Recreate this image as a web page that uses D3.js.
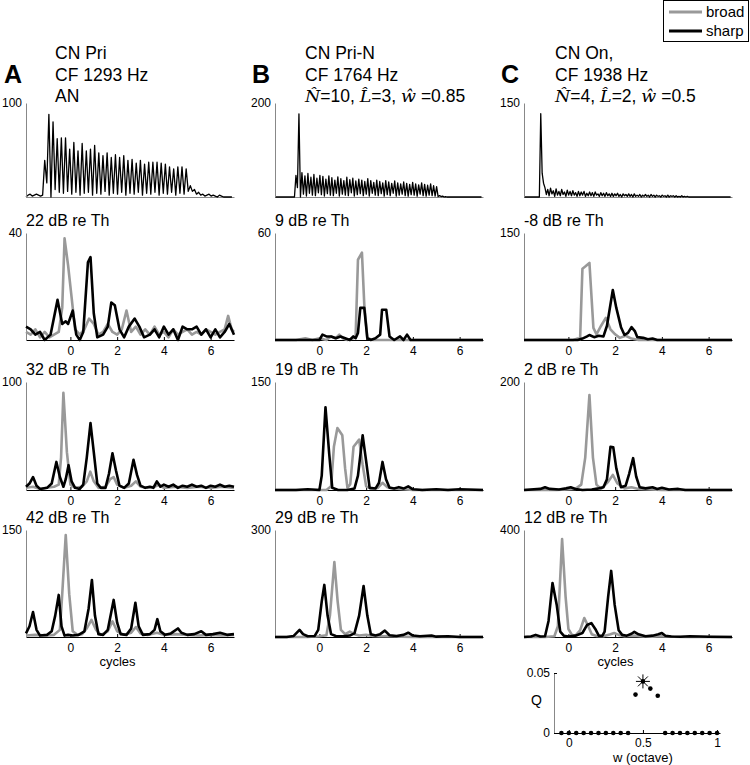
<!DOCTYPE html>
<html lang="en">
<head>
<meta charset="UTF-8">
<title>Period histograms</title>
<script src="https://d3js.org/d3.v7.min.js"></script>
<style>
  body { margin: 0; background: #fff; }
  svg text { font-family: "Liberation Sans", Arial, sans-serif; fill: #000; }
  .trace { fill: none; stroke-linejoin: round; stroke-width: 2.6px; }
  .broad { stroke: #999; }
  .sharp { stroke: #000; }
  .psth { fill: none; stroke: #000; stroke-width: 1.3px; stroke-linejoin: round; }
  .yax path { stroke: #888; }
  .xax path, .xax line { stroke: #000; }
  .tick text { font-size: 12px; }
</style>
</head>
<body>
<svg id="chart" width="750" height="765"></svg>
<script>
// ---- data ----
const panelLetters = ["A", "B", "C"];
const panelTitles = [
  [["CN Pri"], ["CF 1293 Hz"], ["AN"]],
  [["CN Pri-N"], ["CF 1764 Hz"], [["N\u0302"], "=10, ", ["L\u0302"], "=3, ", ["w\u0302"], " =0.85"]],
  [["CN On,"], ["CF 1938 Hz"], [["N\u0302"], "=4, ", ["L\u0302"], "=2, ", ["w\u0302"], " =0.5"]]
];
const levelLabels = [
  ["22 dB re Th", "32 dB re Th", "42 dB re Th"],
  ["9 dB re Th", "19 dB re Th", "29 dB re Th"],
  ["-8 dB re Th", "2 dB re Th", "12 dB re Th"]
];
const psthMax = [100, 200, 150];
const phMax = [[40, 100, 150], [60, 150, 300], [150, 200, 400]];
const cycleTicks = [0, 2, 4, 6];

// PSTH bin counts (spikes/s), one value per bin
const psthA = [0,2,3,1,2,3,2,1,2,
  39,15,88,0,80,8,62,5,63,4,63,6,51,3,58,5,49,2,57,4,49,5,51,2,55,4,47,3,44,6,
  47,2,42,4,45,3,42,5,44,2,39,4,40,3,36,5,39,2,35,4,37,3,37,5,37,2,36,4,35,3,
  32,5,30,2,32,4,32,3,30,6,
  12,6,8,3,5,2,3,1,2,3,1,2,1,0,2,1,0,0,0,0,0];
const psthB = [0,0,0,0,0,0,0,0,0,0,0,0,0,0,
  46,20,177,0,
  52,6,45,2,50,8,42,4,48,3,40,9,46,5,44,2,38,7,45,4,
  41,3,36,8,43,2,39,6,35,4,42,3,37,9,40,2,34,5,38,7,
  36,3,33,6,39,2,35,8,31,4,36,3,33,7,30,2,35,5,32,3,
  29,8,34,2,30,4,28,6,32,3,29,2,27,5,31,4,28,2,26,6,
  30,3,27,2,25,4,28,3,24,2,22,1,
  3,1,2,0,1,0,0,0,0,0,0,0,0,0,0,0,0,0,0,0,0,0,0,0,0,0,0,0,0];
const psthC = [0,0,0,0,0,0,0,0,0,0,0,0,
  133,38,22,
  15,4,12,2,14,5,10,1,13,3,9,2,12,4,8,1,11,3,9,2,
  10,3,7,1,9,2,8,3,9,1,6,2,8,2,7,1,8,3,5,1,
  7,2,6,1,7,2,5,1,6,1,5,2,6,1,4,0,5,2,4,1,
  5,1,4,0,5,1,3,1,4,0,3,1,4,1,3,0,4,1,3,0,
  3,1,2,0,3,1,2,0,3,0,2,1,2,0,2,0,1,0,2,0,
  1,0,1,0,
  0,0,0,0,0,0,0,0,0,0,0,0,0,0,0,0,0,0,0,0,0,0,0,0,0,0,0,0,0,0];

// period histograms: [cycles, rate]
const broadA = [
  [[-1.9,3],[-1.7,2],[-1.5,4],[-1.3,1],[-1.1,3],[-0.9,1],[-0.7,2],[-0.5,3],[-0.35,12],[-0.25,38],[-0.1,28],[0.05,16],[0.2,4],[0.4,2],[0.6,4],[0.8,8],[1.0,6],[1.2,2],[1.4,3],[1.6,6],[1.8,3],[2.0,2],[2.2,4],[2.4,11],[2.6,3],[2.8,5],[3.0,2],[3.2,4],[3.4,2],[3.6,5],[3.8,2],[4.0,3],[4.2,1],[4.4,4],[4.6,2],[4.8,3],[5.0,4],[5.2,2],[5.4,3],[5.6,2],[5.8,4],[6.0,3],[6.2,2],[6.4,3],[6.6,4],[6.75,9],[6.9,4],[7.0,3]],
  [[-1.9,2],[-1.6,3],[-1.3,1],[-1.0,2],[-0.7,3],[-0.5,5],[-0.4,30],[-0.3,90],[-0.15,35],[0,5],[0.2,2],[0.5,3],[0.7,8],[0.85,17],[1.0,8],[1.2,2],[1.5,3],[1.7,10],[1.85,12],[2.0,5],[2.3,2],[2.6,4],[2.8,8],[3.0,3],[3.3,2],[3.6,3],[3.8,5],[4.0,2],[4.5,3],[5.0,2],[5.5,3],[6.0,2],[6.5,3],[7.0,2]],
  [[-1.9,2],[-1.5,3],[-1.0,2],[-0.7,3],[-0.45,10],[-0.35,60],[-0.2,143],[-0.05,60],[0.1,8],[0.3,3],[0.5,4],[0.7,12],[0.9,24],[1.1,10],[1.3,3],[1.6,8],[1.8,22],[2.0,8],[2.3,3],[2.6,6],[2.8,14],[3.0,5],[3.3,3],[3.7,6],[4.0,3],[4.5,4],[5.0,3],[5.5,2],[6.0,3],[6.5,2],[7.0,3]]
];
const sharpA = [
  [[-1.9,5],[-1.7,4],[-1.5,2],[-1.3,3],[-1.1,0],[-0.85,2],[-0.55,15],[-0.35,6],[-0.2,7],[-0.1,6],[0.1,11],[0.25,2],[0.4,0],[0.55,3],[0.75,29],[0.86,31],[1.0,10],[1.15,1],[1.4,2],[1.6,5],[1.75,14],[1.9,13],[2.1,4],[2.3,1],[2.5,5],[2.75,8],[2.95,5],[3.15,1],[3.4,2],[3.6,4],[3.8,1],[4.0,5],[4.2,2],[4.4,4],[4.6,0],[4.8,5],[5.0,4],[5.2,4],[5.4,5],[5.6,2],[5.8,4],[6.0,1],[6.2,4],[6.4,1],[6.6,3],[6.8,6],[7.0,2]],
  [[-1.9,3],[-1.75,6],[-1.6,12],[-1.45,4],[-1.3,1],[-1.0,2],[-0.8,6],[-0.6,26],[-0.45,12],[-0.3,3],[-0.2,10],[-0.08,23],[0.05,8],[0.2,2],[0.4,1],[0.55,5],[0.7,30],[0.86,62],[1.0,35],[1.15,6],[1.3,2],[1.5,2],[1.65,15],[1.8,34],[1.95,18],[2.1,4],[2.3,2],[2.5,6],[2.7,28],[2.85,14],[3.0,4],[3.2,2],[3.4,3],[3.55,2],[3.7,8],[3.85,3],[4.0,5],[4.2,3],[4.4,5],[4.6,2],[4.8,4],[5.0,3],[5.2,5],[5.4,3],[5.6,4],[5.8,2],[6.0,4],[6.2,3],[6.4,5],[6.6,3],[6.8,4],[7.0,3]],
  [[-1.9,5],[-1.75,15],[-1.6,35],[-1.45,10],[-1.3,2],[-1.0,3],[-0.8,8],[-0.65,30],[-0.5,59],[-0.38,15],[-0.25,2],[-0.1,3],[0.1,2],[0.35,3],[0.6,8],[0.78,40],[0.92,80],[1.05,30],[1.2,4],[1.4,3],[1.6,10],[1.85,52],[2.0,20],[2.15,4],[2.4,3],[2.6,12],[2.78,48],[2.92,15],[3.1,3],[3.4,4],[3.6,10],[3.72,25],[3.85,8],[4.05,3],[4.3,5],[4.6,12],[4.75,6],[5.0,3],[5.3,4],[5.6,8],[5.8,3],[6.1,4],[6.4,6],[6.7,3],[7.0,4]]
];
const broadB = [
  [[-1.9,0],[-1.0,0],[-0.6,1],[-0.3,0],[0,1],[0.3,0],[0.5,2],[0.7,1],[0.85,3],[1.0,1],[1.2,0],[1.45,1],[1.55,2],[1.65,45],[1.82,49],[1.92,20],[2.05,1],[2.3,0],[3.0,0],[7.0,0]],
  [[-1.9,0],[0.3,0],[0.5,5],[0.62,60],[0.77,86],[0.98,76],[1.1,30],[1.2,3],[1.32,8],[1.46,60],[1.7,70],[1.85,35],[2.0,5],[2.2,2],[2.5,3],[2.7,10],[2.9,4],[3.2,2],[3.6,1],[4.0,0],[7.0,0]],
  [[-1.9,0],[-0.5,0],[0,2],[0.3,5],[0.45,60],[0.64,210],[0.78,100],[0.92,20],[1.1,8],[1.3,15],[1.5,8],[1.7,4],[2.0,6],[2.3,3],[2.6,2],[3.0,3],[3.5,1],[4.0,0],[7.0,0]]
];
const sharpB = [
  [[-1.9,0],[0.0,0],[0.13,3],[0.3,2],[0.5,2],[0.7,1],[0.9,2],[1.1,1],[1.3,0],[1.45,2],[1.55,1],[1.65,4],[1.75,18],[1.92,18],[2.05,1],[2.2,0],[2.4,1],[2.6,3],[2.68,17],[2.86,17],[3.0,2],[3.2,0],[3.45,2],[3.6,0],[3.75,3],[3.9,0],[7.0,0]],
  [[-1.9,0],[-1.0,0],[-0.5,1],[0,0],[0.1,20],[0.26,115],[0.42,50],[0.55,3],[0.8,0],[1.2,0],[1.5,2],[1.65,20],[1.85,76],[2.0,40],[2.15,3],[2.4,2],[2.55,10],[2.7,39],[2.85,15],[3.0,3],[3.2,2],[3.4,4],[3.6,2],[3.8,5],[4.0,1],[4.4,0],[5.0,1],[5.5,0],[6.0,1],[7.0,0]],
  [[-1.9,0],[-1.4,0],[-1.1,3],[-0.85,20],[-0.7,8],[-0.5,2],[-0.2,3],[-0.05,20],[0.1,100],[0.21,146],[0.35,60],[0.5,8],[0.7,3],[1.0,2],[1.3,4],[1.5,10],[1.7,60],[1.89,143],[2.05,60],[2.2,8],[2.4,4],[2.6,8],[2.8,18],[3.0,5],[3.3,3],[3.6,6],[3.8,12],[4.0,4],[4.3,2],[4.8,4],[5.0,1],[5.5,2],[6.0,0],[7.0,0]]
];
const broadC = [
  [[-1.9,0],[0.2,0],[0.4,2],[0.5,1],[0.6,100],[0.72,103],[0.9,108],[1.07,17],[1.2,8],[1.4,20],[1.6,31],[1.8,15],[2.0,8],[2.2,3],[2.45,6],[2.7,2],[3.0,0],[7.0,0]],
  [[-1.9,0],[-0.5,0],[0.3,2],[0.55,10],[0.72,60],[0.9,176],[1.05,60],[1.2,10],[1.4,2],[1.7,15],[1.9,28],[2.1,12],[2.4,3],[2.7,5],[3.0,2],[3.5,1],[4.0,0],[7.0,0]],
  [[-1.9,0],[-1.0,0],[-0.6,3],[-0.45,40],[-0.27,366],[-0.12,150],[0,30],[0.15,8],[0.3,5],[0.5,25],[0.68,71],[0.85,40],[1.0,10],[1.2,4],[1.5,3],[1.8,10],[1.96,15],[2.15,8],[2.4,3],[2.8,5],[3.2,2],[3.6,1],[4.0,3],[4.5,1],[5.0,0],[7.0,0]]
];
const sharpC = [
  [[-1.9,0],[0.4,0],[0.6,2],[0.8,5],[0.9,7],[1.1,4],[1.3,6],[1.5,5],[1.65,20],[1.9,70],[2.05,45],[2.25,18],[2.4,7],[2.55,10],[2.7,18],[2.85,12],[2.95,4],[3.2,3],[3.4,1],[3.6,2],[3.8,0],[7.0,0]],
  [[-1.9,0],[-1.2,2],[-1.0,5],[-0.8,2],[-0.4,1],[-0.1,3],[0.1,5],[0.3,2],[0.6,0],[1.0,1],[1.3,3],[1.5,5],[1.65,20],[1.8,80],[1.92,79],[2.05,40],[2.25,5],[2.45,8],[2.6,30],[2.77,59],[2.9,25],[3.05,5],[3.3,3],[3.6,5],[3.8,2],[4.0,4],[4.3,1],[4.7,2],[5.0,0],[7.0,0]],
  [[-1.9,0],[-1.6,2],[-1.4,8],[-1.2,2],[-1.0,3],[-0.85,60],[-0.68,202],[-0.5,120],[-0.35,20],[-0.2,5],[0,2],[0.3,5],[0.6,15],[0.8,45],[0.98,52],[1.15,30],[1.3,5],[1.45,4],[1.55,20],[1.7,150],[1.83,247],[1.98,120],[2.15,25],[2.3,8],[2.5,5],[2.7,12],[2.82,19],[3.0,10],[3.3,3],[3.6,5],[3.85,10],[4.0,15],[4.15,5],[4.4,2],[4.8,1],[5.2,3],[6.0,1],[7.0,0]]
];

// Q vs w (octave)
const wValues = [-0.05,0,0.05,0.1,0.15,0.2,0.25,0.3,0.35,0.4,0.45,0.5,0.55,0.6,0.65,0.7,0.75,0.8,0.85,0.9,0.95,1.0];
const qValues = [0,0,0,0,0,0,0,0,0,0,0.032,0.043,0.037,0.031,0,0,0,0,0,0,0,0];
const bestW = 0.5, bestQ = 0.043;

// ---- layout ----
const svg = d3.select("#chart");
const colLeft = [26, 275, 524];
const plotW = 208;
const rows = [[103, 197], [233, 340], [382, 490], [530, 637]];
const titleX = [55, 305, 555];
const letterX = [4, 252, 501];

const psths = [psthA, psthB, psthC];
const broads = [broadA, broadB, broadC];
const sharps = [sharpA, sharpB, sharpC];

function yAxis(g, y, max) {
  g.call(d3.axisLeft(y).tickValues([max]).tickSize(0).tickPadding(4).tickSizeOuter(0))
    .attr("class", "yax");
}

for (let c = 0; c < 3; c++) {
  const left = colLeft[c];

  // panel letter and heading
  svg.append("text").attr("x", letterX[c]).attr("y", 83)
    .style("font-size", "25px").style("font-weight", "bold").text(panelLetters[c]);
  panelTitles[c].forEach((line, i) => {
    const t = svg.append("text").attr("x", titleX[c]).attr("y", 59 + i * 21.5).style("font-size", "17.5px");
    line.forEach(seg => {
      const s = t.append("tspan");
      if (Array.isArray(seg)) {
        if (i < 2) s.text(seg[0]);
        else s.style("font-family", "'DejaVu Serif', 'Liberation Serif', serif").style("font-style", "italic").text(seg[0]);
      } else s.text(seg);
    });
  });

  // PSTH
  const vals = psths[c];
  const xp = d3.scaleLinear().domain([0, vals.length]).range([left, left + plotW]);
  const yp = d3.scaleLinear().domain([0, psthMax[c]]).range([rows[0][1], rows[0][0]]);
  svg.append("g").attr("class", "xax").attr("transform", `translate(0,${rows[0][1]})`)
    .call(d3.axisBottom(xp).tickValues([]).tickSizeOuter(0))
    .select("path").style("stroke", "#888");
  svg.append("path").attr("class", "psth")
    .attr("d", d3.line().x((d, i) => xp(i)).y(d => yp(d))(vals));
  svg.append("g").attr("transform", `translate(${left},0)`).call(g => yAxis(g, yp, psthMax[c]));

  // period histograms
  for (let r = 0; r < 3; r++) {
    const [top, bottom] = rows[r + 1];
    const x = d3.scaleLinear().domain([-1.9, 7.0]).range([left, left + plotW]);
    const y = d3.scaleLinear().domain([0, phMax[c][r]]).range([bottom, top]);
    const line = d3.line().x(d => x(d[0])).y(d => y(d[1]));

    svg.append("text").attr("x", left).attr("y", top - 7).style("font-size", "16px")
      .text(levelLabels[c][r]);

    svg.append("g").attr("class", "xax").attr("transform", `translate(0,${bottom})`)
      .call(d3.axisBottom(x).tickValues(cycleTicks).tickSize(-3).tickSizeOuter(0).tickPadding(6));
    svg.append("g").attr("transform", `translate(${left},0)`).call(g => yAxis(g, y, phMax[c][r]));

    svg.append("path").attr("class", "trace broad").attr("d", line(broads[c][r]));
    svg.append("path").attr("class", "trace sharp").attr("d", line(sharps[c][r]));
  }
}

// x-axis titles
[0, 2].forEach(c => {
  svg.append("text").attr("x", colLeft[c] + plotW * 0.44).attr("y", 666)
    .attr("text-anchor", "middle").style("font-size", "13px").text("cycles");
});

// legend
const lg = svg.append("g");
lg.append("rect").attr("x", 663.5).attr("y", 0.5).attr("width", 85).attr("height", 41)
  .attr("fill", "#fff").attr("stroke", "#000");
[["broad", "#999", 12], ["sharp", "#000", 31]].forEach(([name, col, yy]) => {
  lg.append("line").attr("x1", 669).attr("x2", 702).attr("y1", yy).attr("y2", yy)
    .attr("stroke", col).attr("stroke-width", 3);
  lg.append("text").attr("x", 706).attr("y", yy + 5).style("font-size", "15px").text(name);
});

// Q vs w inset
const xq = d3.scaleLinear().domain([-0.1, 1.02]).range([554, 720]);
const yq = d3.scaleLinear().domain([0, 0.05]).range([733, 673]);
svg.append("g").attr("class", "xax").attr("transform", "translate(0,733)")
  .call(d3.axisBottom(xq).tickValues([0, 0.5, 1]).tickFormat(d3.format("")).tickSize(-3).tickSizeOuter(0).tickPadding(5));
svg.append("g").attr("class", "yax").attr("transform", "translate(554,0)")
  .call(d3.axisLeft(yq).tickValues([0, 0.05]).tickFormat(d3.format("")).tickSize(-3).tickSizeOuter(0).tickPadding(4))
  .selectAll(".tick line").style("stroke", "#000");
svg.append("g").selectAll("circle").data(wValues).join("circle")
  .attr("cx", d => xq(d)).attr("cy", (d, i) => yq(qValues[i])).attr("r", 2.3).attr("fill", "#000");
const star = svg.append("g").attr("transform", `translate(${xq(bestW)},${yq(bestQ)})`);
d3.range(4).forEach(k => {
  const a = k * Math.PI / 4;
  star.append("line").attr("x1", -7 * Math.cos(a)).attr("y1", -7 * Math.sin(a))
    .attr("x2", 7 * Math.cos(a)).attr("y2", 7 * Math.sin(a)).attr("stroke", "#000").attr("stroke-width", 1);
});
svg.append("text").attr("x", 531).attr("y", 705).style("font-size", "14px").text("Q");
svg.append("text").attr("x", xq(0.5)).attr("y", 762).attr("text-anchor", "middle")
  .style("font-size", "13px").text("w (octave)");
</script>
</body>
</html>
